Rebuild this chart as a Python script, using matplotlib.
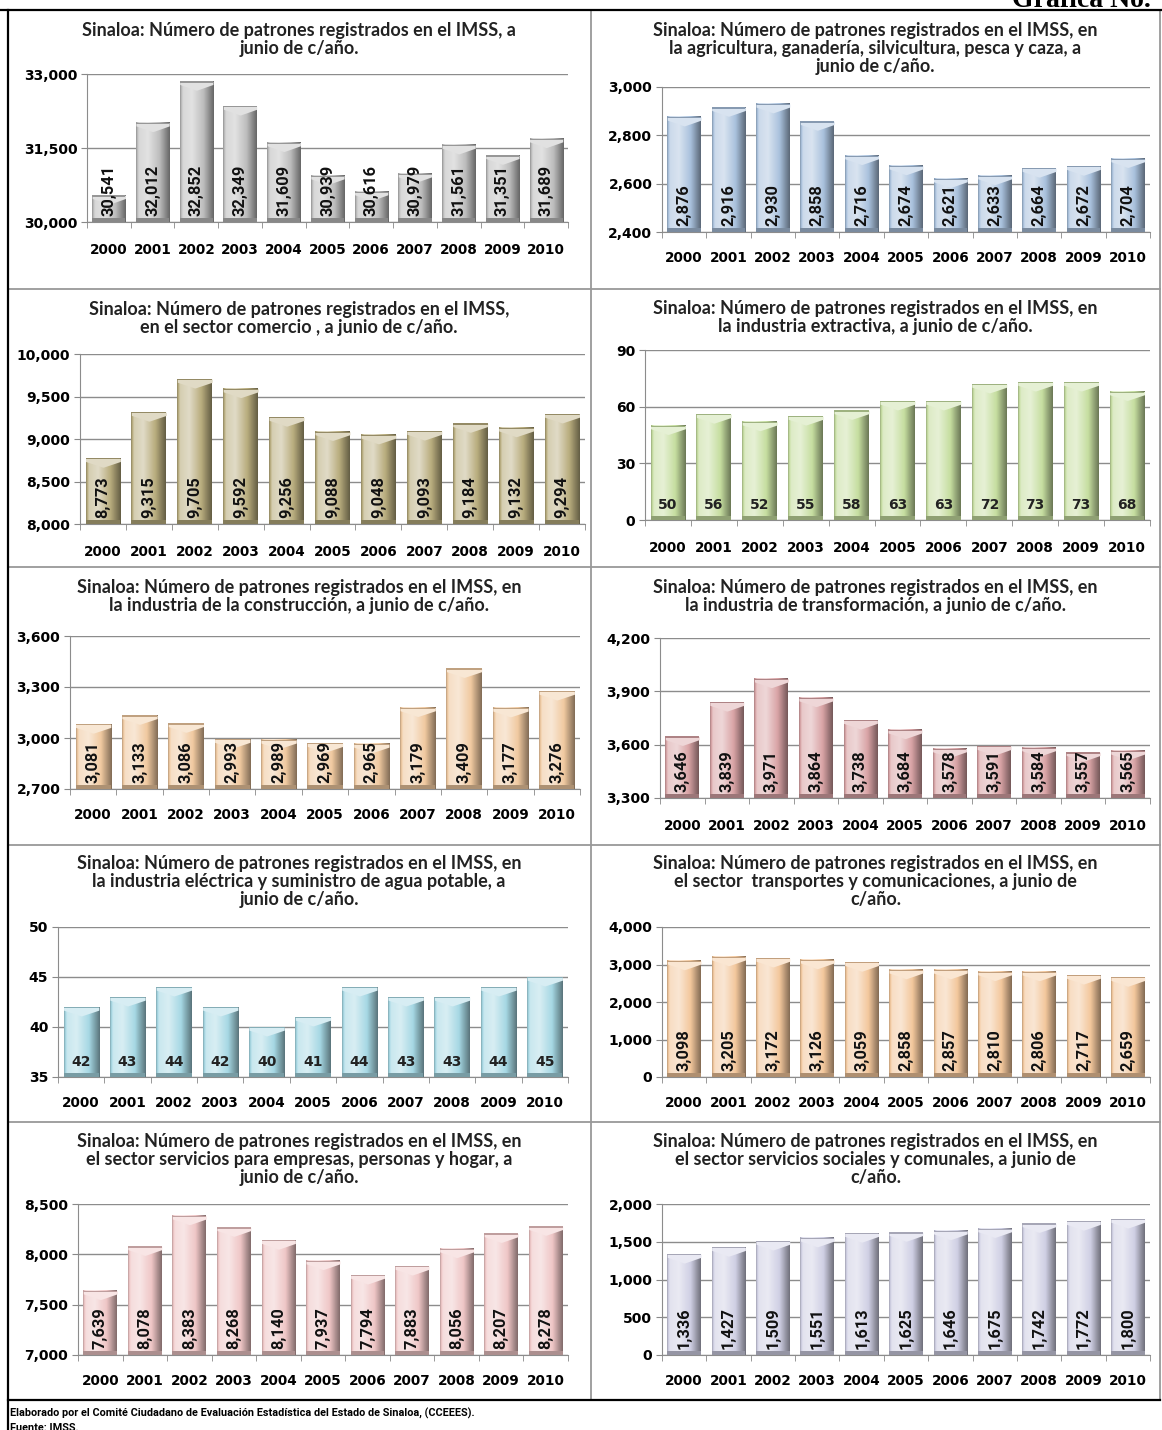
import matplotlib
matplotlib.use("Agg")
import matplotlib.pyplot as plt
import numpy as np
from matplotlib.colors import to_rgb
from matplotlib.ticker import FuncFormatter

W, H = 1162, 1430

years = ["2000", "2001", "2002", "2003", "2004", "2005", "2006", "2007", "2008", "2009", "2010"]

total = [30541, 32012, 32852, 32349, 31609, 30939, 30616, 30979, 31561, 31351, 31689]
agricultura = [2876, 2916, 2930, 2858, 2716, 2674, 2621, 2633, 2664, 2672, 2704]
comercio = [8773, 9315, 9705, 9592, 9256, 9088, 9048, 9093, 9184, 9132, 9294]
extractiva = [50, 56, 52, 55, 58, 63, 63, 72, 73, 73, 68]
construccion = [3081, 3133, 3086, 2993, 2989, 2969, 2965, 3179, 3409, 3177, 3276]
transformacion = [3646, 3839, 3971, 3864, 3738, 3684, 3578, 3591, 3584, 3557, 3565]
electrica = [42, 43, 44, 42, 40, 41, 44, 43, 43, 44, 45]
transportes = [3098, 3205, 3172, 3126, 3059, 2858, 2857, 2810, 2806, 2717, 2659]
servicios_empresas = [7639, 8078, 8383, 8268, 8140, 7937, 7794, 7883, 8056, 8207, 8278]
servicios_sociales = [1336, 1427, 1509, 1551, 1613, 1625, 1646, 1675, 1742, 1772, 1800]

titulos = [
    "Sinaloa: Número de patrones registrados en el IMSS, a\njunio de c/año.",
    "Sinaloa: Número de patrones registrados en el IMSS, en\nla agricultura, ganadería, silvicultura, pesca y caza, a\njunio de c/año.",
    "Sinaloa: Número de patrones registrados en el IMSS,\nen el sector comercio , a junio de c/año.",
    "Sinaloa: Número de patrones registrados en el IMSS, en\nla industria extractiva, a junio de c/año.",
    "Sinaloa: Número de patrones registrados en el IMSS, en\nla industria de la construcción, a junio de c/año.",
    "Sinaloa: Número de patrones registrados en el IMSS, en\nla industria de transformación, a junio de c/año.",
    "Sinaloa: Número de patrones registrados en el IMSS, en\nla industria eléctrica y suministro de agua potable, a\njunio de c/año.",
    "Sinaloa: Número de patrones registrados en el IMSS, en\nel sector  transportes y comunicaciones, a junio de\nc/año.",
    "Sinaloa: Número de patrones registrados en el IMSS, en\nel sector servicios para empresas, personas y hogar, a\njunio de c/año.",
    "Sinaloa: Número de patrones registrados en el IMSS, en\nel sector servicios sociales y comunales, a junio de\nc/año.",
]

series = [total, agricultura, comercio, extractiva, construccion,
          transformacion, electrica, transportes, servicios_empresas, servicios_sociales]

# (ymin, ymax, paso)
escalas = [
    (30000, 33000, 1500),
    (2400, 3000, 200),
    (8000, 10000, 500),
    (0, 90, 30),
    (2700, 3600, 300),
    (3300, 4200, 300),
    (35, 50, 5),
    (0, 4000, 1000),
    (7000, 8500, 500),
    (0, 2000, 500),
]

colores = ["#bdbdbd", "#a9c1dd", "#b9ad7e", "#c6dea0", "#f0c9a0",
           "#d9a4a6", "#a6d8e4", "#f3c79c", "#efc6c6", "#cfcfe4"]

# caja de cada eje en pixeles: izquierda, arriba, derecha, abajo; y del titulo; y de los años
cajas = [
    (87, 74, 568, 222, 22, 245),
    (662, 87, 1150, 232, 22, 254),
    (80, 354, 585, 524, 301, 547),
    (645, 350, 1150, 520, 300, 543),
    (70, 636, 580, 789, 579, 811),
    (660, 638, 1150, 798, 579, 821),
    (58, 927, 568, 1077, 855, 1099),
    (662, 927, 1150, 1077, 855, 1099),
    (78, 1204, 568, 1355, 1133, 1377),
    (662, 1204, 1150, 1355, 1133, 1377),
]

plt.rcParams["font.family"] = ["DejaVu Sans"]
fig = plt.figure(figsize=(W / 100, H / 100), dpi=100)


def textura_barra(color, w=40, h=120):
    """imagen con el degradado tipo bisel de excel"""
    c = np.array(to_rgb(color))
    t = np.linspace(0, 1, w)
    perfil = np.interp(t, [0, 0.08, 0.35, 0.7, 0.9, 1.0], [0.82, 1.25, 1.35, 1.0, 0.7, 0.55])
    img = np.zeros((h, w, 3))
    for k in range(3):
        col = np.where(perfil > 1, c[k] + (1 - c[k]) * (perfil - 1) * 1.6, c[k] * perfil)
        img[:, :, k] = np.clip(col, 0, 1)
    return img


for i in range(10):
    x0, y0, x1, y1, yt, yy = cajas[i]
    ax = fig.add_axes([x0 / W, 1 - y1 / H, (x1 - x0) / W, (y1 - y0) / H])
    ymin, ymax, paso = escalas[i]
    vals = series[i]
    xs = np.arange(len(years))
    bars = ax.bar(xs, np.array(vals) - ymin, bottom=ymin, width=0.76,
                  color=colores[i], edgecolor="none", zorder=2)

    px_y = (ymax - ymin) / (y1 - y0)  # unidades por pixel
    base = np.array(to_rgb(colores[i]))
    tex = textura_barra(colores[i])
    for b in bars:
        bx0, bw = b.get_x(), b.get_width()
        top = b.get_y() + b.get_height()
        ax.imshow(tex, extent=(bx0, bx0 + bw, ymin, top), aspect="auto",
                  interpolation="bilinear", zorder=3)
        # bisel superior (tapa clara en forma de V)
        bev = 9 * px_y
        tt = np.linspace(0, 1, 40)
        vy = top - bev * (0.35 + 0.65 * (1 - np.abs(2 * tt - 1)))
        ax.fill_between(bx0 + tt * bw, vy, top, color=base + (1 - base) * 0.55, lw=0, zorder=4)
        ax.fill_between(bx0 + tt * bw, top - 1.2 * px_y, top, color=base * 0.8, lw=0, zorder=4)
        # banda oscura inferior
        ax.fill_between([bx0, bx0 + bw], ymin, ymin + 4 * px_y, color=base * 0.72, lw=0, zorder=4)

    for x, v in zip(xs, vals):
        if v >= 1000:
            ax.annotate(f"{v:,}", (x, ymin), xytext=(0, 4), textcoords="offset points",
                        rotation=90, ha="center", va="bottom", fontsize=11.8,
                        fontweight="bold", family=["Roboto", "DejaVu Sans"],
                        color="#111111", zorder=6)
        else:
            ax.annotate(f"{v}", (x, ymin), xytext=(0, 11), textcoords="offset points",
                        ha="center", va="center", fontsize=10, fontweight="bold",
                        color="#222222", zorder=6)

    ax.set_xlim(-0.5, len(years) - 0.5)
    ax.set_ylim(ymin, ymax)
    ax.set_yticks(np.arange(ymin, ymax + paso / 2, paso))
    ax.yaxis.set_major_formatter(FuncFormatter(lambda v, p: f"{int(v):,}"))
    ax.set_xticks(xs)
    ax.set_xticklabels(years)
    ax.set_xticks(np.arange(-0.5, len(years), 1), minor=True)
    ax.tick_params(axis="x", which="major", length=0, pad=(yy - y1) - 8, labelsize=9.8)
    ax.tick_params(axis="x", which="minor", length=4, direction="out", color="#888888")
    ax.tick_params(axis="y", length=4, direction="out", color="#888888", labelsize=10, pad=3)
    for lab in ax.get_xticklabels() + ax.get_yticklabels():
        lab.set_fontweight("bold")
    ax.grid(axis="y", color="#8c8c8c", lw=1.0, zorder=1)
    ax.set_axisbelow(True)
    for s in ["top", "right"]:
        ax.spines[s].set_visible(False)
    ax.spines["left"].set_color("#8c8c8c")
    ax.spines["bottom"].set_color("#8c8c8c")

    cx = (8 + 590) / 2 if i % 2 == 0 else (591 + 1160) / 2
    fig.text(cx / W, 1 - yt / H, titulos[i], ha="center", va="top",
             fontsize=13.0, fontweight="bold", family="Lato", color="#222222",
             linespacing=1.08)

# bordes de la cuadricula
linea_h = [289, 567, 845, 1122]
for yl in linea_h:
    fig.add_artist(plt.Line2D([8 / W, 1160 / W], [1 - yl / H] * 2, color="#999999", lw=1.3))
fig.add_artist(plt.Line2D([591 / W] * 2, [1 - 10 / H, 1 - 1400 / H], color="#999999", lw=1.3))
fig.add_artist(plt.Line2D([8 / W] * 2, [1 - 10 / H, 1 - 1430 / H], color="black", lw=1.6))
fig.add_artist(plt.Line2D([1160 / W] * 2, [1 - 10 / H, 1 - 1400 / H], color="#999999", lw=1.3))
fig.add_artist(plt.Line2D([0, 1], [1 - 10 / H] * 2, color="black", lw=1.6))
fig.add_artist(plt.Line2D([8 / W, 1160 / W], [1 - 1400 / H] * 2, color="black", lw=1.6))

fig.text(1012 / W, 1 - 7 / H, "Gráfica No.", ha="left", va="baseline",
         fontsize=20, fontweight="bold", family="Liberation Serif")

fig.text(10 / W, 1 - 1413 / H,
         "Elaborado por el Comité Ciudadano de Evaluación Estadística del Estado de Sinaloa, (CCEEES).",
         ha="left", va="center", fontsize=7.8, fontweight="bold",
         family=["Roboto", "DejaVu Sans"])
fig.text(10 / W, 1 - 1428 / H, "Fuente: IMSS.", ha="left", va="center", fontsize=7.8,
         fontweight="bold", family=["Roboto", "DejaVu Sans"])

fig.savefig("out.png", dpi=100)
